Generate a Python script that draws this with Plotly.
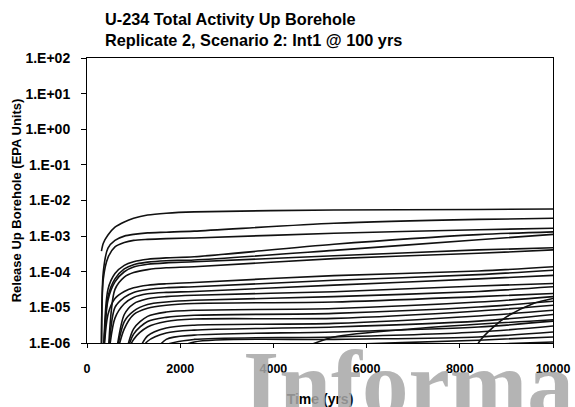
import plotly.graph_objects as go

# Time grid (yrs) shared by the main family of curves
time_yrs = [310, 350, 450, 600, 800, 1000, 1300, 1700, 2300, 5300, 8400, 10000]

# Release up borehole (EPA units) for each realization
c01 = [3.8e-4, 6.3e-4, 1.07e-3, 1.78e-3, 2.5e-3, 3.16e-3, 3.9e-3, 4.4e-3, 4.8e-3, 5.4e-3, 5.6e-3, 5.75e-3]
c02 = [3e-7, 1.0e-4, 4.6e-4, 7.6e-4, 1.0e-3, 1.12e-3, 1.23e-3, 1.29e-3, 1.38e-3, 2.3e-3, 2.95e-3, 3.16e-3]
c03 = [3e-7, 6.3e-5, 2.5e-4, 5.0e-4, 6.6e-4, 7.6e-4, 8.1e-4, 8.5e-4, 8.9e-4, 1.2e-3, 1.51e-3, 1.66e-3]
c04 = [None, 3e-7, 3.2e-5, 8.9e-5, 1.51e-4, 1.9e-4, 2.24e-4, 2.45e-4, 2.63e-4, 5.9e-4, 1.1e-3, 1.32e-3]
c05 = [None, 3e-7, 2.0e-5, 6.3e-5, 1.2e-4, 1.58e-4, 1.86e-4, 2.04e-4, 2.14e-4, 3.98e-4, 7.9e-4, 1.12e-3]
c06 = [None, 3e-7, 1.58e-5, 5.2e-5, 1.0e-4, 1.35e-4, 1.62e-4, 1.78e-4, 1.9e-4, 2.8e-4, 4.1e-4, 4.7e-4]
c07 = [None, None, 3e-7, 3.2e-5, 7.1e-5, 9.5e-5, 1.15e-4, 1.29e-4, 1.38e-4, 2.34e-4, 3.3e-4, 4.1e-4]
c08 = [None, 3e-7, 6.3e-6, 1.78e-5, 2.8e-5, 3.55e-5, 4.2e-5, 4.6e-5, 5.0e-5, 7.8e-5, 1.05e-4, 1.38e-4]
c09 = [None, None, 3e-7, 1.0e-5, 1.9e-5, 2.63e-5, 3.16e-5, 3.55e-5, 3.8e-5, 5.75e-5, 8.3e-5, 1.1e-4]
c10 = [None, None, 3e-7, 5.0e-6, 1.26e-5, 1.9e-5, 2.4e-5, 2.63e-5, 2.8e-5, 4.2e-5, 6.3e-5, 7.9e-5]
c11 = [None, None, None, 3e-7, 6.3e-6, 1.26e-5, 1.74e-5, 2.0e-5, 2.2e-5, 2.75e-5, 4.0e-5, 4.7e-5]
c12 = [None, None, None, 3e-7, 4.0e-6, 7.9e-6, 1.2e-5, 1.41e-5, 1.58e-5, 2.0e-5, 2.8e-5, 3.8e-5]
c13 = [None, None, None, 3e-7, 2.5e-6, 6.3e-6, 9.5e-6, 1.15e-5, 1.29e-5, 1.41e-5, 2.0e-5, 2.45e-5]
c14 = [None, None, None, None, 3e-7, 2.5e-6, 5.6e-6, 7.4e-6, 8.3e-6, 9.3e-6, 1.41e-5, 2.0e-5]
c15 = [None, None, None, None, 3e-7, 1.78e-6, 4.0e-6, 5.25e-6, 6.0e-6, 6.8e-6, 1.02e-5, 1.48e-5]
c16 = [None, None, None, None, 3e-7, 1.26e-6, 2.8e-6, 4.0e-6, 4.7e-6, 4.9e-6, 7.9e-6, 1.15e-5]
c17 = [None, None, None, None, None, 3e-7, 1.58e-6, 2.63e-6, 3.16e-6, 3.55e-6, 5.75e-6, 8.3e-6]
c18 = [None, None, None, None, None, 3e-7, 1.12e-6, 1.9e-6, 2.3e-6, 2.8e-6, 4.1e-6, 6.3e-6]
c19 = [None, None, None, None, None, None, 3e-7, 1.26e-6, 1.66e-6, 2.04e-6, 2.8e-6, 4.1e-6]
c20 = [None, None, None, None, None, None, 3e-7, 8.9e-7, 1.26e-6, 1.48e-6, 2.04e-6, 3.0e-6]
c21 = [None, None, None, None, None, None, None, 5e-7, 1.07e-6, 1.26e-6, 1.48e-6, 2.04e-6]
c22 = [None, None, None, None, None, None, None, None, 6.3e-7, 8.9e-7, 1.2e-6, 1.48e-6]
c23 = [None, None, None, None, None, None, None, None, 4e-7, 6.3e-7, 8.9e-7, 1.07e-6]

# Late-starting realizations
late_a_time = [8300, 8400, 8720, 9000, 9580, 10000]
late_a = [3e-7, 1.0e-6, 2.8e-6, 5.4e-6, 1.29e-5, 1.78e-5]
late_b_time = [4700, 5300, 7000, 10000]
late_b = [7.9e-7, 1.48e-6, 2.5e-6, 4.5e-6]

y_tickvals = [1e-6, 1e-5, 1e-4, 1e-3, 1e-2, 1e-1, 1e0, 1e1, 1e2]
y_ticktext = ["1.E-06", "1.E-05", "1.E-04", "1.E-03", "1.E-02",
              "1.E-01", "1.E+00", "1.E+01", "1.E+02"]
x_tickvals = [0, 2000, 4000, 6000, 8000, 10000]
x_ticktext = ["0", "2000", "4000", "6000", "8000", "10000"]

curves = [c01, c02, c03, c04, c05, c06, c07, c08, c09, c10, c11, c12,
          c13, c14, c15, c16, c17, c18, c19, c20, c21, c22, c23]

fig = go.Figure()
line_style = dict(color="#111111", width=1.6, shape="spline", smoothing=0.8)
for c in curves:
    fig.add_trace(go.Scatter(x=time_yrs, y=c, mode="lines", line=line_style,
                             connectgaps=False, showlegend=False, hoverinfo="skip"))
fig.add_trace(go.Scatter(x=late_a_time, y=late_a, mode="lines", line=line_style,
                         showlegend=False, hoverinfo="skip"))
fig.add_trace(go.Scatter(x=late_b_time, y=late_b, mode="lines", line=line_style,
                         showlegend=False, hoverinfo="skip"))

font_family = "Liberation Sans, Arial, sans-serif"
fig.update_layout(
    width=575, height=407,
    margin=dict(l=87, r=22, t=58, b=64),
    paper_bgcolor="white", plot_bgcolor="white",
    font=dict(family=font_family, color="black", size=12),
    title=dict(
        text="U-234 Total Activity Up Borehole<br>Replicate 2, Scenario 2: Int1 @ 100 yrs",
        x=105 / 575, xanchor="left", xref="container",
        y=1 - 25 / 407, yanchor="middle", yref="container",
        font=dict(family=font_family, size=16.3, color="black", weight="bold"),
    ),
    xaxis=dict(
        range=[0, 10000], tickvals=x_tickvals, ticktext=x_ticktext,
        ticks="outside", ticklen=4, ticklabelstandoff=10, automargin=False,
        tickcolor="black", showline=True, linecolor="black", linewidth=1,
        mirror=True, showgrid=False, zeroline=False,
        tickfont=dict(size=12.5, color="black", weight="bold"),
        title=dict(text="Time (yrs)", standoff=24,
                   font=dict(size=14, color="black", weight="bold")),
    ),
    yaxis=dict(
        type="log", range=[-6, 2], tickvals=y_tickvals, ticktext=y_ticktext,
        ticks="outside", ticklen=5, ticklabelstandoff=8, tickcolor="black",
        showline=True, linecolor="black", linewidth=1, mirror=True,
        showgrid=False, zeroline=False, automargin=False,
        tickfont=dict(size=14, color="black", weight="bold"),
        title=dict(text="Release Up Borehole (EPA Units)", standoff=0,
                   font=dict(size=13, color="black", weight="bold")),
    ),
)

# Watermark text present in the source image
fig.add_annotation(
    text="Informa", xref="paper", yref="paper",
    x=1.05, y=0.045, xanchor="right", yanchor="top", showarrow=False,
    font=dict(family="Liberation Serif, Times New Roman, serif", size=93,
              color="#a8a8a8", weight="bold"),
    opacity=0.85,
)

fig.write_html("out.html", config={"displayModeBar": False},
               post_script="document.body.style.margin='0px';")
